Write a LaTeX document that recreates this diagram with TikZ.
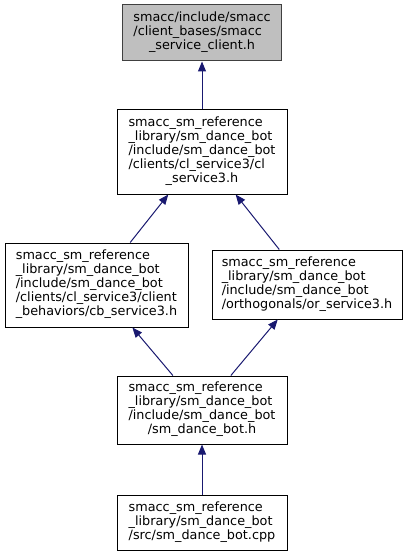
\documentclass[tikz,border=0pt]{standalone}
\usepackage{fontspec}
\setmainfont{DejaVu Sans}
\usetikzlibrary{arrows.meta}
\definecolor{edgeblue}{HTML}{191970}
\definecolor{boxgrey}{HTML}{BFBFBF}
\newcommand{\lastrow}[1]{\multicolumn{1}{@{}c@{}}{#1}}
\newcommand{\filetext}[1]{\begin{tabular}{@{}l@{}}#1\end{tabular}}
\begin{document}
\begin{tikzpicture}[x=0.75pt, y=-0.75pt,
    file/.style={draw=black, line width=0.75pt, fill=white, inner sep=1pt,
                 font=\fontsize{9.6}{10.5}\selectfont},
    dep/.style={draw=edgeblue, line width=0.75pt,
                -{Triangle[length=7.5pt, width=6pt]}}]
    \useasboundingbox (0,0) rectangle (408,556);
    \node[file, fill=boxgrey, draw=black!75, minimum width=119.25pt, minimum height=42pt]
        (client) at (202,33) {\filetext{smacc/include/smacc\\/client\_bases/smacc\\\lastrow{\_service\_client.h}}};
    \node[file, minimum width=127.5pt, minimum height=63pt]
        (clservice) at (202,152) {\filetext{smacc\_sm\_reference\\\_library/sm\_dance\_bot\\/include/sm\_dance\_bot\\/clients/cl\_service3/cl\\\lastrow{\_service3.h}}};
    \node[file, minimum width=137.25pt, minimum height=63pt]
        (cbservice) at (96.5,285) {\filetext{smacc\_sm\_reference\\\_library/sm\_dance\_bot\\/include/sm\_dance\_bot\\/clients/cl\_service3/client\\\lastrow{\_behaviors/cb\_service3.h}}};
    \node[file, minimum width=142.5pt, minimum height=51.75pt]
        (orservice) at (307,284.5) {\filetext{smacc\_sm\_reference\\\_library/sm\_dance\_bot\\/include/sm\_dance\_bot\\\lastrow{/orthogonals/or\_service3.h}}};
    \node[file, minimum width=127.5pt, minimum height=51pt]
        (dancebot) at (202,410) {\filetext{smacc\_sm\_reference\\\_library/sm\_dance\_bot\\/include/sm\_dance\_bot\\\lastrow{/sm\_dance\_bot.h}}};
    \node[file, minimum width=127.5pt, minimum height=41.25pt]
        (dancebotcpp) at (202,522.5) {\filetext{smacc\_sm\_reference\\\_library/sm\_dance\_bot\\\lastrow{/src/sm\_dance\_bot.cpp}}};
    \draw[dep] (clservice) -- (client);
    \draw[dep] (cbservice) -- (clservice);
    \draw[dep] (orservice) -- (clservice);
    \draw[dep] (dancebot) -- (cbservice);
    \draw[dep] (dancebot) -- (orservice);
    \draw[dep] (dancebotcpp) -- (dancebot);
  \end{tikzpicture}
\end{document}
